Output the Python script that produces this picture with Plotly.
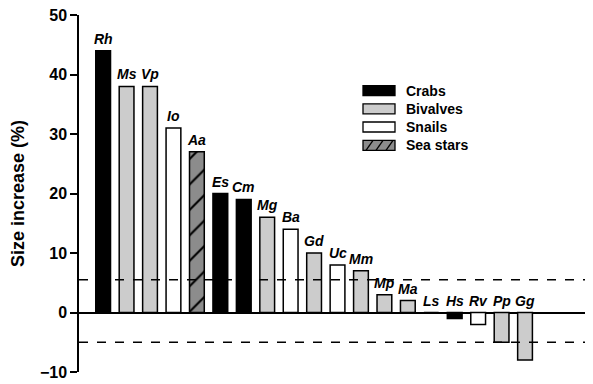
import plotly.graph_objects as go

species = ["Rh", "Ms", "Vp", "Io", "Aa", "Es", "Cm", "Mg", "Ba", "Gd",
           "Uc", "Mm", "Mp", "Ma", "Ls", "Hs", "Rv", "Pp", "Gg"]
size_increase = [44, 38, 38, 31, 27, 20, 19, 16, 14, 10,
                 8, 7, 3, 2, 0, -1, -2, -5, -8]
group = ["Crabs", "Bivalves", "Bivalves", "Snails", "Sea stars", "Crabs", "Crabs",
         "Bivalves", "Snails", "Bivalves", "Snails", "Bivalves", "Bivalves",
         "Bivalves", "Snails", "Crabs", "Snails", "Bivalves", "Bivalves"]
group_order = ["Crabs", "Bivalves", "Snails", "Sea stars"]
threshold_upper = 5.5
threshold_lower = -5
y_ticks = [-10, 0, 10, 20, 30, 40, 50]

FONT = "Arial, Liberation Sans, Helvetica, sans-serif"
fills = {"Crabs": "#000000", "Bivalves": "#cccccc", "Snails": "#ffffff", "Sea stars": "#8c8c8c"}

fig = go.Figure()
for g in group_order:
    xs = [s for s, gg in zip(species, group) if gg == g]
    ys = [v for v, gg in zip(size_increase, group) if gg == g]
    marker = dict(color=fills[g], line=dict(color="black", width=1.5))
    if g == "Sea stars":
        marker["pattern"] = dict(shape="/", fgcolor="black", bgcolor=fills[g],
                                 size=18, solidity=0.12, fillmode="replace")
    fig.add_trace(go.Bar(x=xs, y=ys, name=g, marker=marker, width=0.63,
                         showlegend=False))

annotations = []
for s, v in zip(species, size_increase):
    annotations.append(dict(x=s, y=max(v, 0), xref="x", yref="y", yanchor="bottom",
                            yshift=2, showarrow=False,
                            text=f"<b><i>{s}</i></b>",
                            font=dict(family=FONT, size=14, color="black")))

# page has an 8px body margin; figure is sized so the plot area lands at x 79-593, y ~15-372
OFF = 8
TOP = 15
PX0, PW, PY0, PH = 79, 514, 372, 372 - TOP
def px(x):
    return (x - PX0) / PW
def py(y):
    return (PY0 - y) / PH

shapes = []
for yv in (threshold_upper, threshold_lower):
    shapes.append(dict(type="line", xref="paper", yref="y", x0=0, x1=1, y0=yv, y1=yv,
                       line=dict(color="black", width=1.5, dash="dash"), layer="above"))

row_centers = [90.7, 108.8, 127.0, 145.3]
for g, yc in zip(group_order, row_centers):
    shapes.append(dict(type="rect", xref="paper", yref="paper",
                       x0=px(363), x1=px(395), y0=py(yc + 5), y1=py(yc - 5),
                       fillcolor=fills[g], line=dict(color="black", width=1.3)))
    if g == "Sea stars":
        for xs0 in (366, 376, 386):
            shapes.append(dict(type="line", xref="paper", yref="paper",
                               x0=px(xs0), x1=px(xs0 + 7), y0=py(yc + 5), y1=py(yc - 5),
                               line=dict(color="black", width=1.3)))
    annotations.append(dict(x=px(404), y=py(yc), xref="paper", yref="paper",
                            xanchor="left", yanchor="middle", showarrow=False,
                            text=f"<b>{g}</b>",
                            font=dict(family=FONT, size=14, color="black")))

fig.update_layout(
    width=593 - OFF, height=384 - OFF,
    margin=dict(l=79 - OFF, r=0, t=TOP - OFF, b=12, pad=0),
    plot_bgcolor="white", paper_bgcolor="white",
    barmode="overlay",
    showlegend=False,
    annotations=annotations,
    shapes=shapes,
    xaxis=dict(categoryorder="array", categoryarray=species, range=[-1.03, 20.9],
               showticklabels=False, ticks="", showline=False, showgrid=False,
               zeroline=False, automargin=False),
    yaxis=dict(range=[-10, 50], tickvals=y_ticks, ticks="outside", ticklen=7,
               tickwidth=1.5, tickcolor="black", showline=True, linecolor="black",
               linewidth=1.5, showgrid=False, zeroline=True, zerolinecolor="black",
               zerolinewidth=1.5, automargin=False, ticklabeloverflow="allow",
               tickfont=dict(family=FONT, size=16, color="black", weight="bold"),
               title=dict(text="<b>Size increase (%)</b>", standoff=12,
                          font=dict(family=FONT, size=18, color="black"))),
)

fig.write_html("out.html")
